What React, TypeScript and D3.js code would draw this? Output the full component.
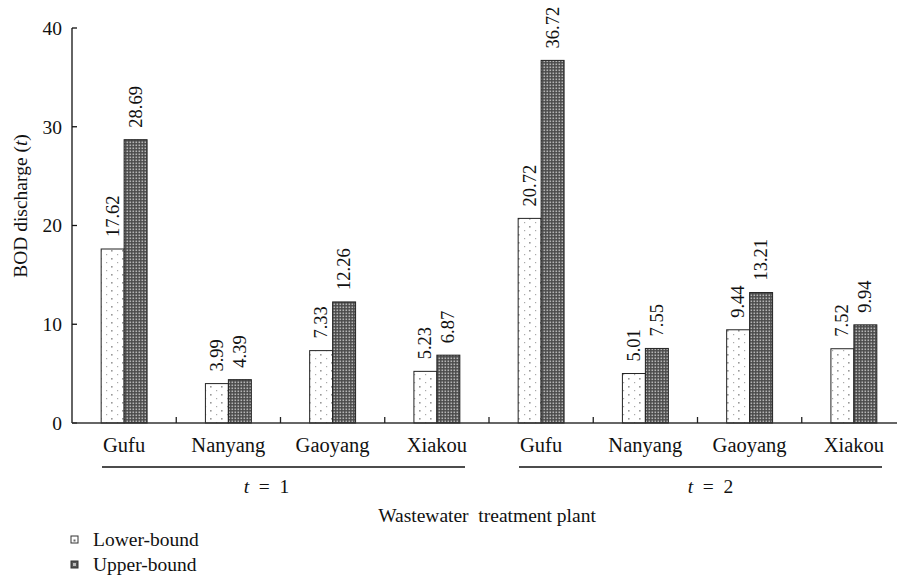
import React from "react";
import * as d3 from "d3";

const categories = ["Gufu", "Nanyang", "Gaoyang", "Xiakou", "Gufu", "Nanyang", "Gaoyang", "Xiakou"];
const lowerBound = [17.62, 3.99, 7.33, 5.23, 20.72, 5.01, 9.44, 7.52];
const upperBound = [28.69, 4.39, 12.26, 6.87, 36.72, 7.55, 13.21, 9.94];
const yTicks = [0, 10, 20, 30, 40];
const seriesKeys = ["Lower-bound", "Upper-bound"];
const groups = [
  { label: "1", from: 0, to: 3 },
  { label: "2", from: 4, to: 7 },
];

const W = 897;
const H = 581;
const FONT = "Liberation Serif, DejaVu Serif, serif";
const ts = (size: number): React.CSSProperties => ({ fontFamily: FONT, fontSize: size });

export default function App() {
  const x = d3.scaleBand<number>().domain(d3.range(categories.length)).range([72, 906]).padding(0);
  const sub = d3.scaleBand<string>().domain(seriesKeys).range([0, x.bandwidth()]).paddingInner(0).paddingOuter(1.27);
  const y = d3.scaleLinear().domain([0, 40]).range([423, 28]);
  const vals = [lowerBound, upperBound];
  const fills = ["url(#patLower)", "url(#patUpper)"];

  return (
    <svg width={W} height={H} style={{ position: "absolute", left: 0, top: 0, background: "#fff" }}>
      <defs>
        <pattern id="patLower" patternUnits="userSpaceOnUse" width="11" height="8" x="0" y="0">
          <rect width="11" height="8" fill="#fff" />
          <rect x="1" y="2" width="1.6" height="1.6" fill="#999" />
          <rect x="7" y="6" width="1.2" height="1.2" fill="#aaa" />
        </pattern>
        <pattern id="patUpper" patternUnits="userSpaceOnUse" width="3" height="3">
          <rect width="3" height="3" fill="#4a4a4a" />
          <rect x="0.5" y="0.5" width="1.6" height="1.6" fill="#b5b5b5" />
        </pattern>
      </defs>

      {/* bars */}
      {categories.map((c, i) =>
        seriesKeys.map((k, s) => {
          const v = vals[s][i];
          const bx = (x(i) as number) + (sub(k) as number);
          return (
            <g key={`${i}-${k}`}>
              <rect x={bx} y={y(v)} width={sub.bandwidth()} height={y(0) - y(v)} fill={fills[s]} stroke="#222" strokeWidth={1} />
              <text
                transform={`translate(${bx + sub.bandwidth() / 2 + 6},${y(v) - 12}) rotate(-90)`}
                style={ts(18.5)}
                fill="#111"
              >
                {v.toFixed(2)}
              </text>
            </g>
          );
        })
      )}

      {/* y axis */}
      <line x1={72} x2={72} y1={y(40)} y2={y(0)} stroke="#111" strokeWidth={1.3} />
      {yTicks.map((t) => (
        <g key={t}>
          <line x1={72} x2={77} y1={y(t)} y2={y(t)} stroke="#111" strokeWidth={1.3} />
          <text x={62} y={y(t)} dy="0.35em" textAnchor="end" style={ts(19.5)} fill="#111">
            {t}
          </text>
        </g>
      ))}
      <text
        transform={`translate(27,206) rotate(-90)`}
        textAnchor="middle"
        style={ts(19.5)}
        fill="#111"
      >
        BOD discharge (<tspan fontStyle="italic">t</tspan>)
      </text>

      {/* x axis */}
      <line x1={72} x2={897} y1={y(0)} y2={y(0)} stroke="#333" strokeWidth={1.6} />
      {categories.slice(1).map((_, i) => (
        <line key={i} x1={x(i + 1)} x2={x(i + 1)} y1={y(0)} y2={y(0) - 6} stroke="#222" strokeWidth={1.3} />
      ))}
      {categories.map((c, i) => (
        <text
          key={i}
          x={(x(i) as number) + x.bandwidth() / 2}
          y={452}
          textAnchor="middle"
          style={ts(20.5)}
          fill="#111"
        >
          {c}
        </text>
      ))}

      {/* groups */}
      {groups.map((g, gi) => {
        const x1 = (x(g.from) as number) + 30;
        const x2 = (x(g.to) as number) + x.bandwidth() - 24;
        const cx = (x1 + x2) / 2 - (gi === 0 ? 17 : -10);
        return (
          <g key={g.label}>
            <line x1={x1} x2={x2} y1={467} y2={467} stroke="#111" strokeWidth={1.4} />
            <text x={cx} y={493} textAnchor="middle" style={ts(19.5)} fill="#111" xmlSpace="preserve">
              <tspan fontStyle="italic">t</tspan>{"  =  "}{g.label}
            </text>
          </g>
        );
      })}

      <text x={487} y={522} textAnchor="middle" style={ts(19.5)} fill="#111" xmlSpace="preserve">
        {"Wastewater  treatment plant"}
      </text>

      {/* legend */}
      {seriesKeys.map((k, s) => (
        <g key={k} transform={`translate(0,${s * 25})`}>
          <rect x={71} y={536} width={7} height={7} fill={s === 0 ? "#fff" : "#555"} stroke="#333" strokeWidth={1} />
          {s === 0 ? (
            <rect x={73.5} y={539.5} width={2} height={2} fill="#666" />
          ) : (
            <rect x={73} y={538} width={3} height={3} fill="#bbb" />
          )}
          <text x={93} y={546} style={ts(19.5)} fill="#111">
            {k}
          </text>
        </g>
      ))}
    </svg>
  );
}
